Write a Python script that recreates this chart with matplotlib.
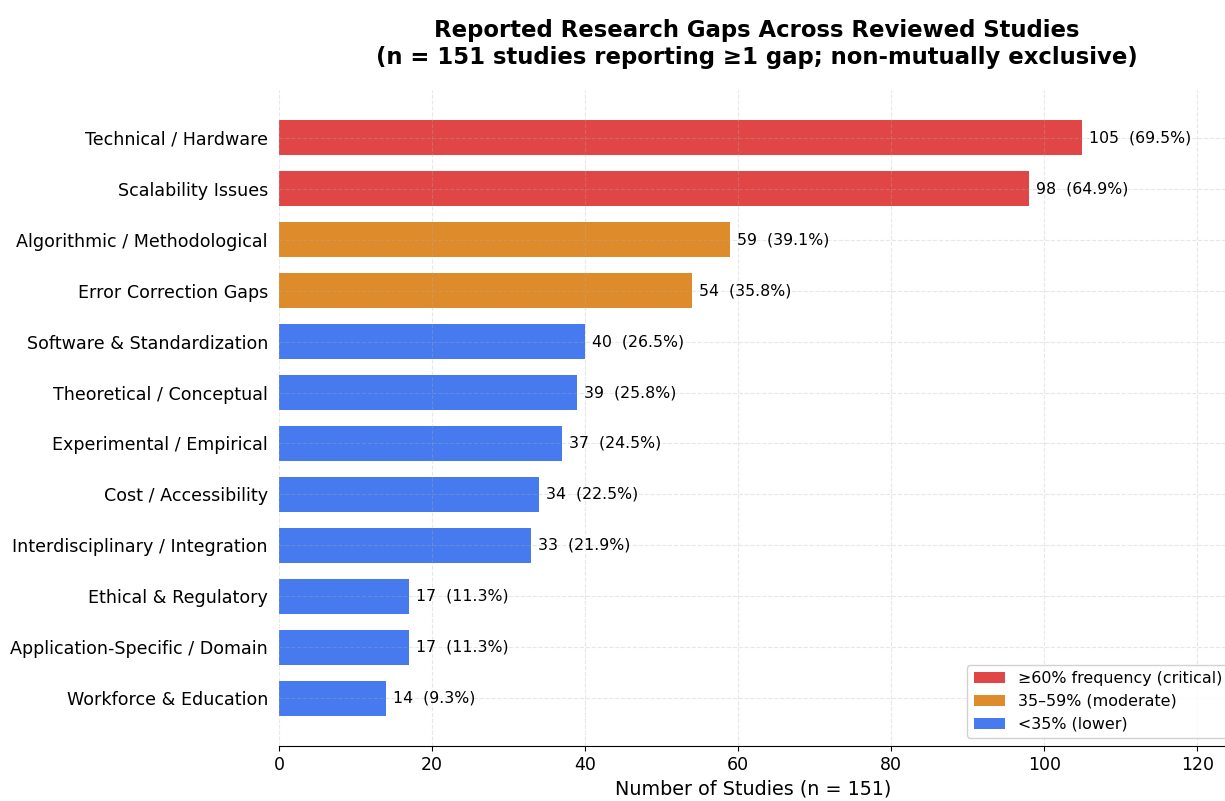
import numpy as np
import matplotlib.pyplot as plt
from matplotlib.patches import Patch

# gap categories, top to bottom
categories = [
    "Technical / Hardware",
    "Scalability Issues",
    "Algorithmic / Methodological",
    "Error Correction Gaps",
    "Software & Standardization",
    "Theoretical / Conceptual",
    "Experimental / Empirical",
    "Cost / Accessibility",
    "Interdisciplinary / Integration",
    "Ethical & Regulatory",
    "Application-Specific / Domain",
    "Workforce & Education",
]
counts = [105, 98, 59, 54, 40, 39, 37, 34, 33, 17, 17, 14]
n_total = 151

RED = "#dc2626"
ORANGE = "#d97706"
BLUE = "#2563eb"

def tier_color(pct):
    if pct >= 60:
        return RED
    elif pct >= 35:
        return ORANGE
    return BLUE

counts = np.array(counts)
pcts = counts / n_total * 100
colors = [tier_color(p) for p in pcts]
ypos = np.arange(len(categories))

fig = plt.figure(figsize=(12.25, 8.01), dpi=100)
ax = fig.add_axes([279/1225, 55/801, 948/1225, 656/801])

ax.barh(ypos, counts, height=0.7, color=colors, alpha=0.85, zorder=2)
ax.invert_yaxis()
ax.set_yticks(ypos)
ax.set_yticklabels(categories, fontsize=12.6)
ax.set_xlim(0, max(counts) * 1.18)
ax.set_xticks(np.arange(0, 121, 20))
ax.tick_params(axis="x", labelsize=12.5)
ax.set_xlabel("Number of Studies (n = 151)", fontsize=13.8)

for y, c, p in zip(ypos, counts, pcts):
    ax.text(c + 0.9, y, f"{c}  ({p:.1f}%)", va="center", ha="left", fontsize=11.3, zorder=3)

ax.grid(True, linestyle="--", alpha=0.3, zorder=0)
ax.set_axisbelow(False)
for s in ["top", "right", "left"]:
    ax.spines[s].set_visible(False)
ax.tick_params(axis="y", length=0, pad=8)

handles = [
    Patch(facecolor=RED, alpha=0.85, label="\u226560% frequency (critical)"),
    Patch(facecolor=ORANGE, alpha=0.85, label="35\u201359% (moderate)"),
    Patch(facecolor=BLUE, alpha=0.85, label="<35% (lower)"),
]
ax.legend(handles=handles, loc="lower right", bbox_to_anchor=(1.01, 0.0),
          fontsize=11.4, framealpha=0.9)

fig.text(0.618, 0.945, "Reported Research Gaps Across Reviewed Studies\n"
         "(n = 151 studies reporting \u22651 gap; non-mutually exclusive)",
         ha="center", va="center", fontsize=16.4, fontweight="bold",
         linespacing=1.25)

fig.savefig("out.png", dpi=100)
